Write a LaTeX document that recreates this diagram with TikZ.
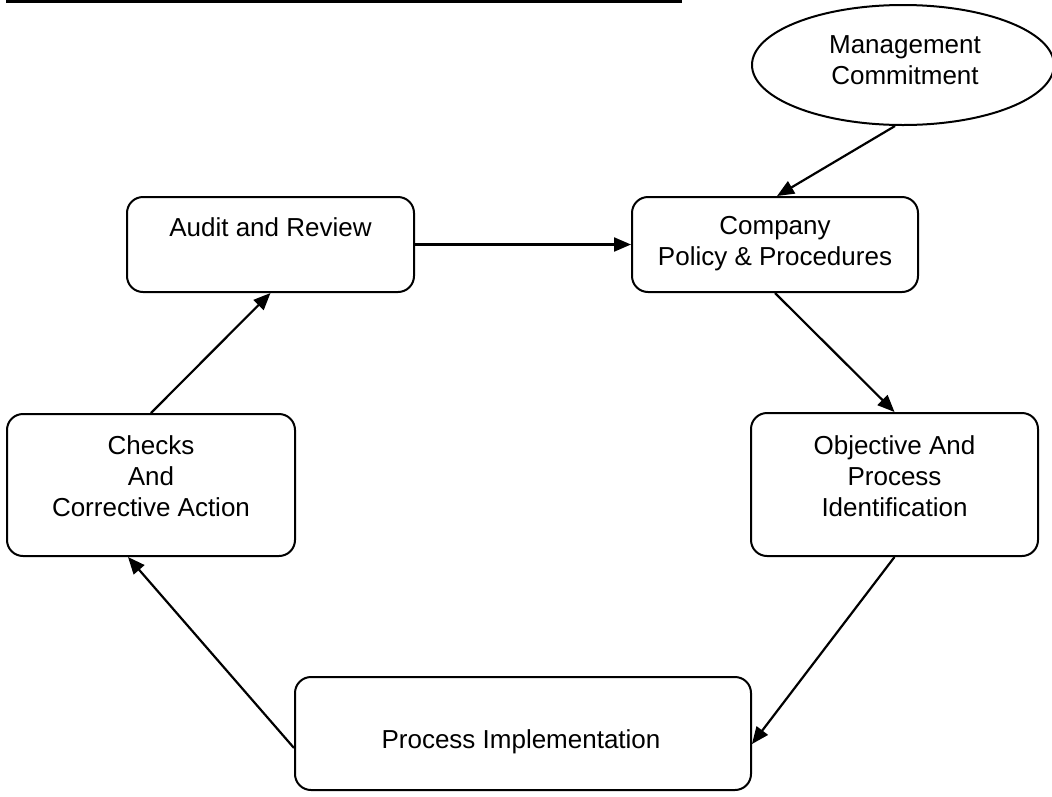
\documentclass[tikz,border=0pt]{standalone}
\usepackage{fontspec}
\setmainfont{Liberation Sans}
\usetikzlibrary{shapes.geometric,arrows.meta,calc}
\begin{document}
\begin{tikzpicture}[x=1pt,y=-1pt,
  box/.style={draw, line width=2pt, rounded corners=16pt, inner sep=0pt},
  lbl/.style={font=\fontsize{26}{31}\selectfont, align=center, inner sep=0pt},
  conn/.style={line width=2.2pt, -{Triangle[length=17pt,width=14pt]}}]
\useasboundingbox (0,0) rectangle (1052,796);
% top rule
\coordinate (tl) at (6,1.2);
\coordinate (tr) at (682,1.2);
\draw[line width=2.6pt] (tl) -- (tr);
% shapes
\node[draw, ellipse, line width=2pt, minimum width=302pt, minimum height=120pt, inner sep=0pt] (mgmt) at (903,65) {};
\node[lbl] (mgmtT) at (905,60) {Management\\Commitment};
\node[box, minimum width=287pt, minimum height=95pt] (audit) at (270.5,244.5) {};
\node[lbl, anchor=base] (auditT) at (270.5,236) {Audit and Review};
\node[box, minimum width=286pt, minimum height=95pt] (company) at (775,244.5) {};
\node[lbl] (companyT) at (775,244) {Company\\Policy \& Procedures};
\node[box, minimum width=288pt, minimum height=142pt] (checks) at (151,485) {};
\node[lbl] (checksT) at (151,476) {Checks\\And\\Corrective Action};
\node[box, minimum width=287pt, minimum height=143pt] (obj) at (894.5,484.5) {};
\node[lbl] (objT) at (894.5,476) {Objective And\\Process\\Identification};
\node[box, minimum width=456pt, minimum height=113pt] (proc) at (523,733.5) {};
\node[lbl, anchor=base] (procT) at (521,748) {Process Implementation};
% connectors
\draw[conn] ($(mgmt.south)+(-8,0)$) -- ($(company.north)+(2,0)$);
\draw[conn] (audit.east) -- (company.west);
\draw[conn] (company.south) -- (obj.north);
\draw[conn] (obj.south) -- ($(proc.east)+(0,10.5)$);
\draw[conn] ($(proc.west)+(0,14.5)$) -- ($(checks.south)+(-23,0)$);
\draw[conn] (checks.north) -- (audit.south);
\end{tikzpicture}
\end{document}
